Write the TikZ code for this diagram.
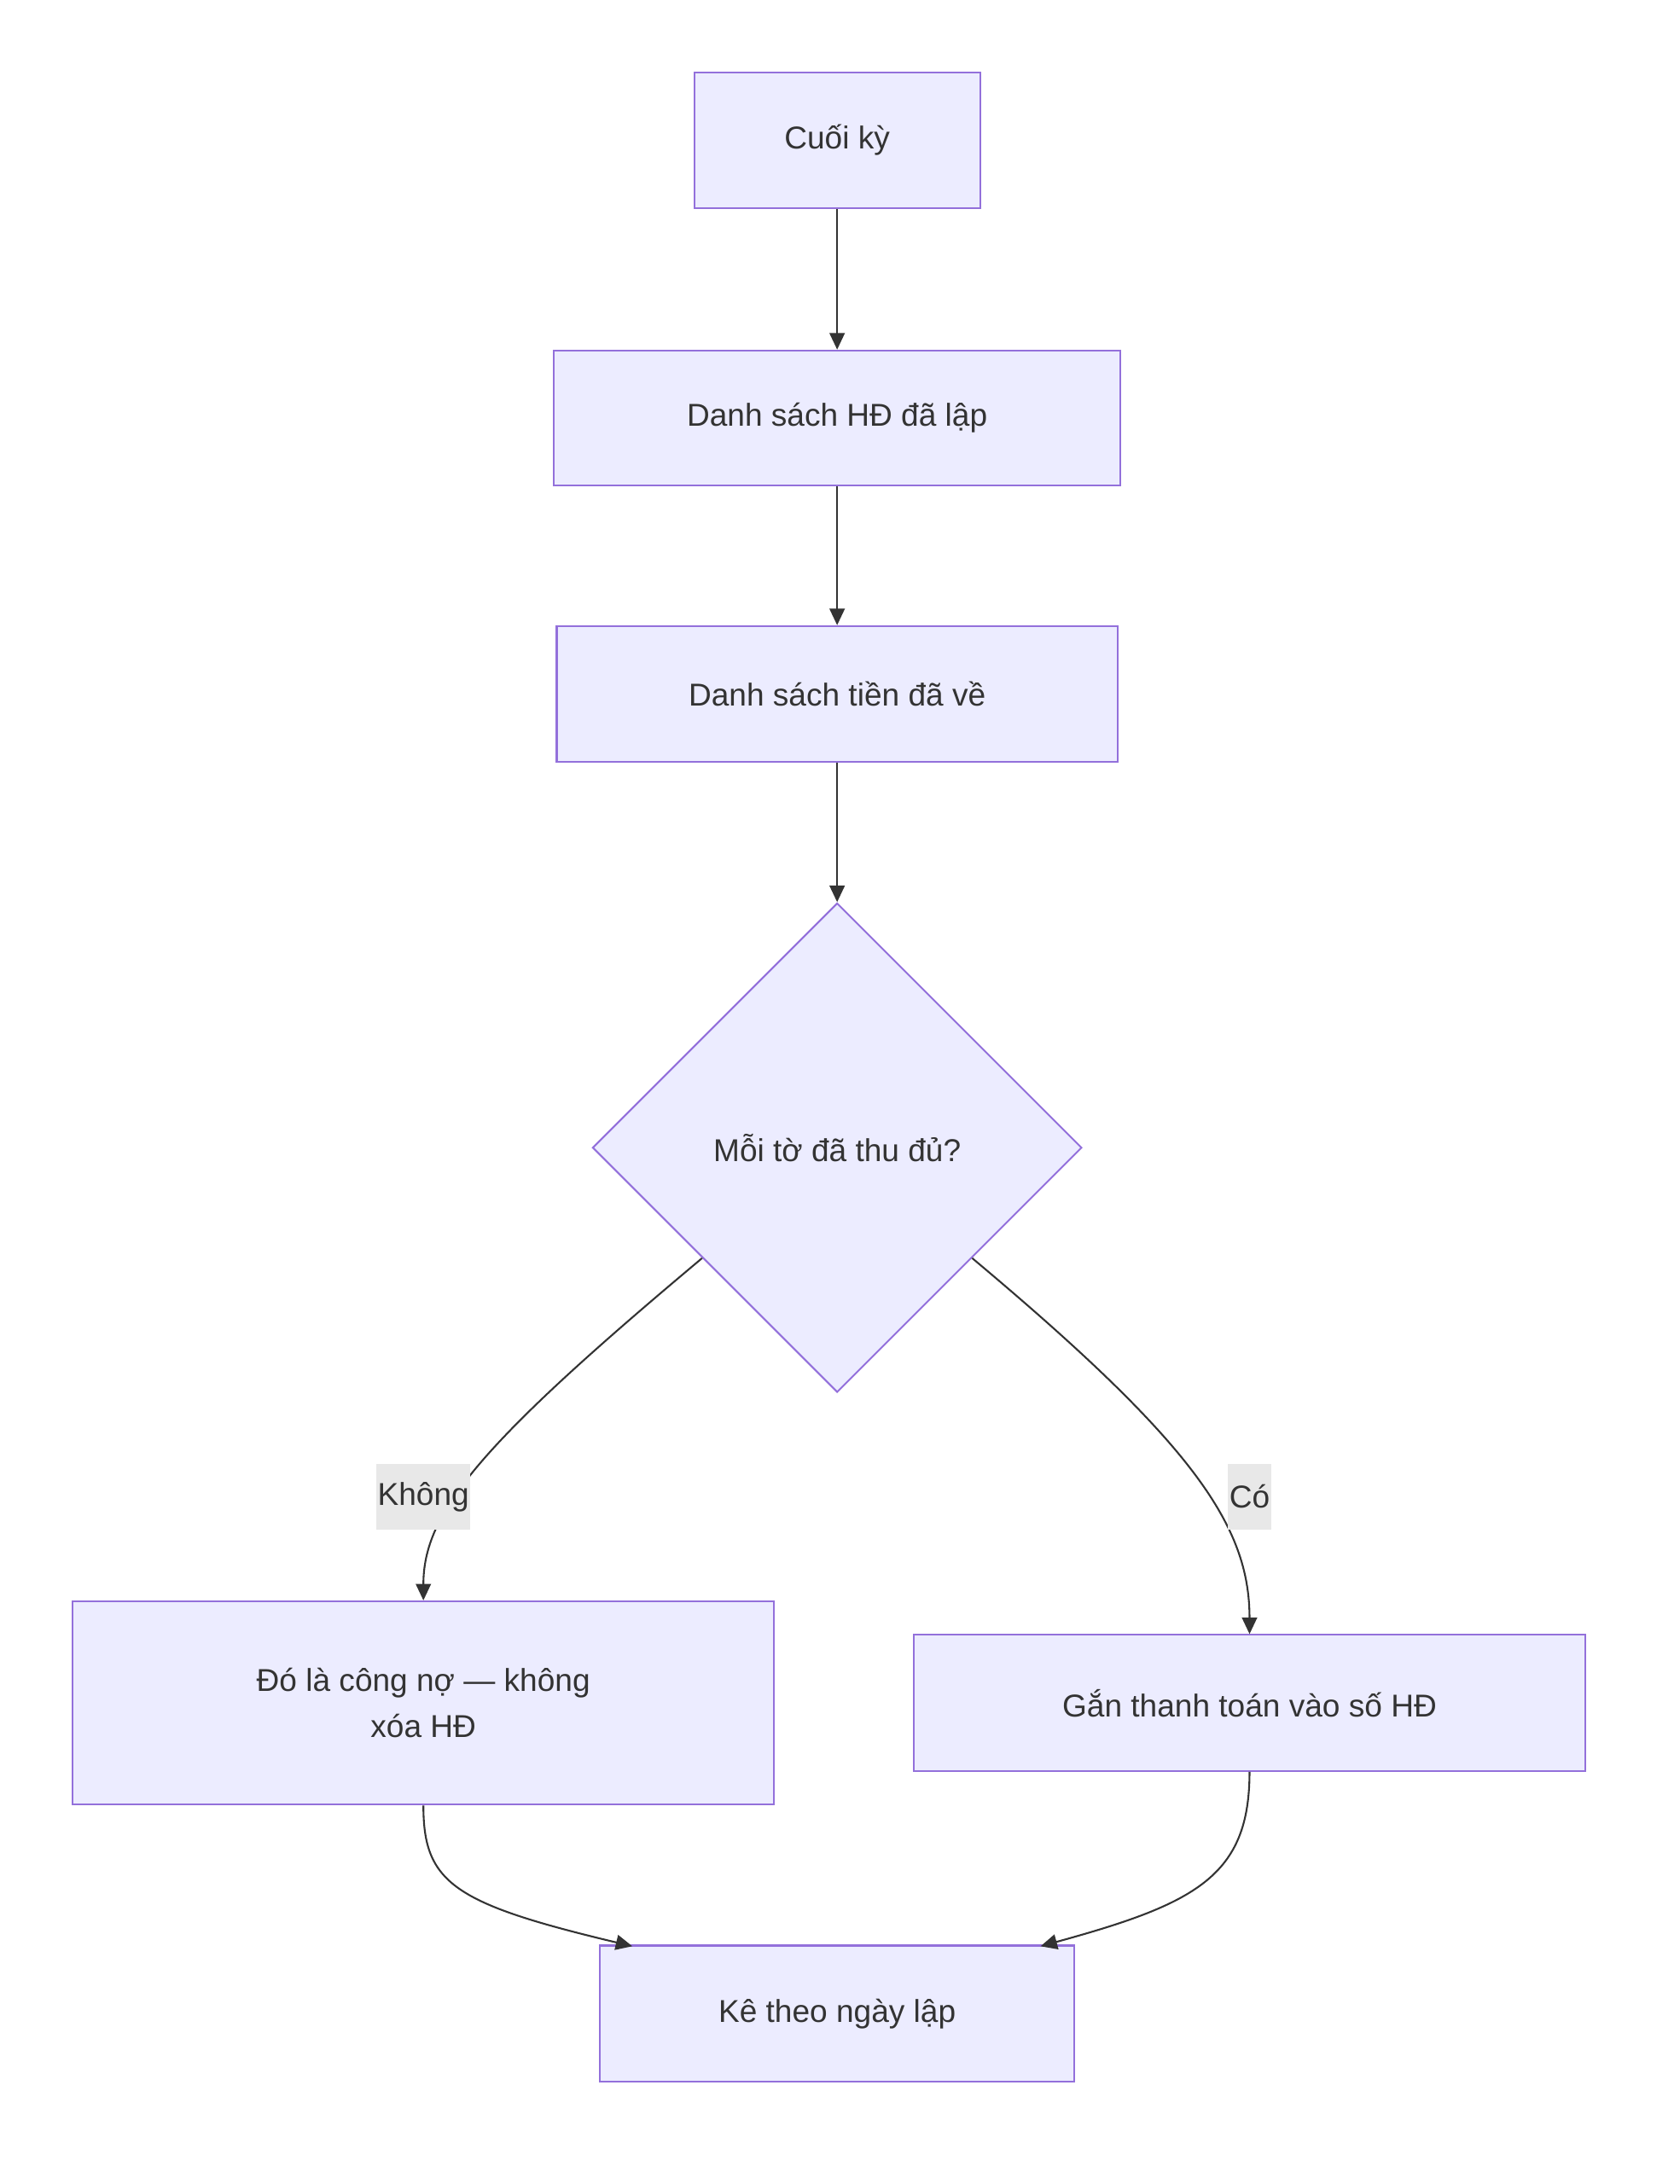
\documentclass[tikz,border=0pt]{standalone}
\usepackage{fontspec}
\setmainfont{Liberation Sans}
\usetikzlibrary{shapes.geometric,calc,arrows.meta}
\definecolor{nf}{HTML}{ECECFF}
\definecolor{ns}{HTML}{9370DB}
\definecolor{ln}{HTML}{333333}
\definecolor{lb}{HTML}{E8E8E8}
\begin{document}
\begin{tikzpicture}[x=1pt,y=-1pt,
  every node/.style={font=\fontsize{23}{34}\selectfont,text=ln},
  box/.style={draw=ns,fill=nf,line width=1.3pt,inner sep=0,align=center},
  dia/.style={diamond,draw=ns,fill=nf,line width=1.3pt,inner sep=0,minimum width=356pt,minimum height=356pt},
  lab/.style={fill=lb,inner sep=1pt,minimum height=48pt},
  edge/.style={draw=ln,line width=1.3pt,-{Triangle[length=12pt,width=11pt]}}]
\useasboundingbox (0,0) rectangle (1222,1589);
\node[box,minimum width=208pt,minimum height=99pt] (A) at (609,102) {Cuối kỳ};
\node[box,minimum width=412pt,minimum height=98pt] (B) at (609,304) {Danh sách HĐ đã lập};
\node[box,minimum width=408pt,minimum height=99pt] (C) at (609,505) {Danh sách tiền đã về};
\node[dia] (D) at (609,835) {Mỗi tờ đã thu đủ?};
\node[box,minimum width=510pt,minimum height=148pt] (E) at (308,1239) {Đó là công nợ — không\\xóa HĐ};
\node[box,minimum width=489pt,minimum height=99pt] (F) at (909,1239) {Gắn thanh toán vào số HĐ};
\node[box,minimum width=345pt,minimum height=99pt] (G) at (609,1465) {Kê theo ngày lập};
\draw[edge] (A) -- (B);
\draw[edge] (B) -- (C);
\draw[edge] (C) -- (D);
\coordinate (d1) at ($(D.west)!0.45!(D.south)$);
\coordinate (d2) at ($(D.east)!0.45!(D.south)$);
\draw[edge] (d1) .. controls (350,1050) and (308,1100) .. (E.north);
\draw[edge] (d2) .. controls (868,1050) and (909,1110) .. (F.north);
\node[lab] (L1) at (308,1089) {Không};
\node[lab] (L2) at (909,1089) {Có};
\coordinate (g1) at (460,1416);
\coordinate (g2) at (757,1416);
\draw[edge] (E.south) .. controls (308,1370) and (330,1385) .. (g1);
\draw[edge] (F.south) .. controls (909,1365) and (870,1385) .. (g2);
\end{tikzpicture}
\end{document}
